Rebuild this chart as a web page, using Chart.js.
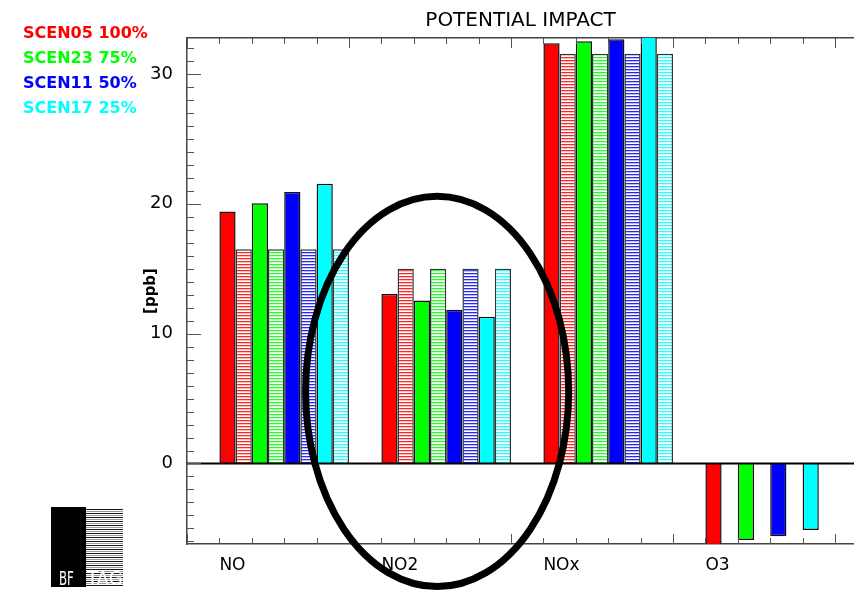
<!DOCTYPE html>
<html>
<head>
<meta charset="utf-8">
<script src="https://cdn.jsdelivr.net/npm/chart.js@4.4.1/dist/chart.umd.min.js"></script>
<style>
  html, body { margin: 0; padding: 0; background: #fff; }
  canvas { display: block; }
</style>
</head>
<body>
<canvas id="chart" width="854" height="591"></canvas>
<script>
// ---- data -------------------------------------------------------------
const categories = ['NO', 'NO2', 'NOx', 'O3'];
const scenarios  = ['SCEN05', 'SCEN23', 'SCEN11', 'SCEN17'];
const shares     = ['100%', '75%', '50%', '25%'];

// brute-force (BF) impact per species, ppb
const bf05 = [19.4, 13.05, 32.37, -6.3];
const bf23 = [20.05, 12.55, 32.52, -5.9];
const bf11 = [20.9, 11.85, 32.68, -5.6];
const bf17 = [21.55, 11.3, 33.3, -5.13];

// tagging (TAG) impact per species, ppb
const tag05 = [16.5, 15.0, 31.55, null];
const tag23 = [16.5, 15.0, 31.55, null];
const tag11 = [16.5, 15.0, 31.55, null];
const tag17 = [16.5, 15.0, 31.55, null];

const yTickValues = [0, 10, 20, 30];

// ---- layout / style ---------------------------------------------------
const colors = ['#ff0000', '#00ff00', '#0000ff', '#00ffff'];
const bfSeries  = [bf05, bf23, bf11, bf17];
const tagSeries = [tag05, tag23, tag11, tag17];

const X_MAX = 20.586;          // x axis in minor-tick units
const GROUP_STEP = 5;          // minor ticks per species group
const FIRST_CENTER = 3;        // centre of the first group
const Y_MIN = -6.2, Y_MAX = 32.77;
const FONT = '"DejaVu Sans", sans-serif';

const groupCenter = k => FIRST_CENTER + GROUP_STEP * k;
const groupStart  = k => groupCenter(k) - 2;

// horizontal line fill used for the TAG bars
function hatch(color) {
  const c = document.createElement('canvas');
  c.width = 4; c.height = 3;
  const g = c.getContext('2d');
  g.fillStyle = '#ffffff';
  g.fillRect(0, 0, 4, 3);
  g.fillStyle = color;
  g.globalAlpha = 0.85;
  g.fillRect(0, 0, 4, 1);
  g.globalAlpha = 0.25;
  g.fillRect(0, 1, 4, 1);
  return g.createPattern(c, 'repeat');
}

const datasets = [];
scenarios.forEach((name, i) => {
  datasets.push({
    label: name + ' BF',
    data: categories.map((c, k) => ({ x: groupCenter(k), y: bfSeries[i][k] })),
    backgroundColor: colors[i],
    borderColor: '#111',
    borderWidth: 1.5,
    xAxisID: 'x', yAxisID: 'y'
  });
  datasets.push({
    label: name + ' TAG',
    data: categories.map((c, k) => ({ x: groupCenter(k), y: tagSeries[i][k] })),
    backgroundColor: hatch(colors[i]),
    borderColor: '#2a3838',
    borderWidth: 1.5,
    xAxisID: 'x', yAxisID: 'y'
  });
});

// inward tick marks, zero line, scenario key, BF/TAG key and the highlight ellipse
const decorations = {
  id: 'decorations',
  afterDatasetsDraw(chart) {
    const { ctx, chartArea } = chart;
    const y0 = chart.scales.y.getPixelForValue(0);
    ctx.save();
    ctx.strokeStyle = '#000';
    ctx.lineWidth = 2;
    ctx.beginPath();
    ctx.moveTo(chartArea.left, y0);
    ctx.lineTo(chartArea.right, y0);
    ctx.stroke();
    ctx.restore();
  },
  afterDraw(chart) {
    const { ctx, chartArea } = chart;
    const { left, right, top, bottom } = chartArea;
    const xs = chart.scales.x, ys = chart.scales.y;
    ctx.save();

    // tick marks
    ctx.strokeStyle = '#555';
    ctx.lineWidth = 1;
    ctx.beginPath();
    for (let u = 0; u <= Math.floor(X_MAX); u++) {
      const px = Math.round(xs.getPixelForValue(u)) + 0.5;
      const len = u % GROUP_STEP === 0 ? 10 : 6;
      ctx.moveTo(px, bottom); ctx.lineTo(px, bottom - len);
      ctx.moveTo(px, top);    ctx.lineTo(px, top + len);
    }
    for (let v = Math.ceil(Y_MIN); v <= Math.floor(Y_MAX); v++) {
      const py = Math.round(ys.getPixelForValue(v)) + 0.5;
      const len = v % 10 === 0 ? 14 : 7;
      ctx.moveTo(left, py); ctx.lineTo(left + len, py);
    }
    ctx.stroke();

    // scenario key
    ctx.font = 'bold 16px ' + FONT;
    ctx.textAlign = 'left';
    ctx.textBaseline = 'alphabetic';
    scenarios.forEach((s, i) => {
      ctx.fillStyle = colors[i];
      ctx.fillText(s + ' ' + shares[i], 23, 38 + 25 * i);
    });

    // BF / TAG key
    ctx.fillStyle = '#000';
    ctx.fillRect(51, 507, 35, 80);
    ctx.save();
    ctx.beginPath();
    ctx.rect(86, 509, 37, 78);
    ctx.clip();
    ctx.fillStyle = '#fff';
    ctx.fillRect(86, 509, 37, 78);
    for (let y = 509, n = 0; y < 587; y += 2, n++) {
      ctx.fillStyle = n % 2 ? '#9a9a9a' : '#1a1a1a';
      ctx.fillRect(86, y, 37, 1);
    }
    ctx.fillStyle = '#fff';
    ctx.font = '19px ' + FONT;
    ctx.save(); ctx.translate(87, 585); ctx.scale(0.95, 1); ctx.fillText('TAG', 0, 0); ctx.restore();
    ctx.restore();
    ctx.fillStyle = '#fff';
    ctx.font = '19px ' + FONT;
    ctx.save(); ctx.translate(59, 585); ctx.scale(0.62, 1); ctx.fillText('BF', 0, 0); ctx.restore();

    // highlight ellipse around the NO2 group (data units)
    const cxv = 7.72, cyv = 5.55, rxv = 4.06, ryv = 15.03;
    const cx = xs.getPixelForValue(cxv), cy = ys.getPixelForValue(cyv);
    const rx = xs.getPixelForValue(cxv + rxv) - cx;
    const ry = cy - ys.getPixelForValue(cyv + ryv);
    ctx.strokeStyle = '#000';
    ctx.lineWidth = 7;
    ctx.beginPath();
    ctx.ellipse(cx, cy, rx, ry, 0, 0, Math.PI * 2);
    ctx.stroke();

    ctx.restore();
  }
};

new Chart(document.getElementById('chart'), {
  type: 'bar',
  data: { datasets },
  plugins: [decorations],
  options: {
    responsive: false,
    animation: false,
    events: [],
    layout: { padding: 0 },
    datasets: { bar: { categoryPercentage: 0.8, barPercentage: 1.0, grouped: true } },
    plugins: { legend: { display: false }, tooltip: { enabled: false }, title: { display: false } },
    scales: {
      x: {
        type: 'linear', position: 'bottom', min: 0, max: X_MAX, offset: false,
        grid: { display: false, offset: false },
        border: { display: true, color: '#444', width: 1.5 },
        afterBuildTicks: s => { s.ticks = categories.map((c, k) => ({ value: groupStart(k) })); },
        afterFit: s => { s.height = 47; },
        ticks: {
          autoSkip: false, maxRotation: 0, align: 'start', padding: 3, color: '#000',
          font: { family: FONT, size: 17 },
          callback: (v, i) => categories[i]
        }
      },
      xTop: {
        type: 'linear', position: 'top', min: 0, max: X_MAX, offset: false,
        grid: { display: false },
        border: { display: true, color: '#444', width: 1.5 },
        ticks: { display: false },
        afterFit: s => { s.height = 38; },
        title: {
          display: true, text: 'POTENTIAL IMPACT', color: '#000',
          font: { family: FONT, size: 20 }, padding: { top: 9, bottom: 0 }
        }
      },
      y: {
        type: 'linear', position: 'left', min: Y_MIN, max: Y_MAX,
        grid: { display: false },
        border: { display: true, color: '#444', width: 1.5 },
        afterBuildTicks: s => { s.ticks = yTickValues.map(v => ({ value: v })); },
        afterFit: s => { s.width = 187; },
        ticks: { padding: 6, color: '#000', font: { family: FONT, size: 18 } },
        title: {
          display: true, text: '[ppb]', color: '#000',
          font: { family: FONT, size: 15, weight: 'bold' }, padding: { top: 142, bottom: 0 }
        }
      }
    }
  }
});
</script>
</body>
</html>
